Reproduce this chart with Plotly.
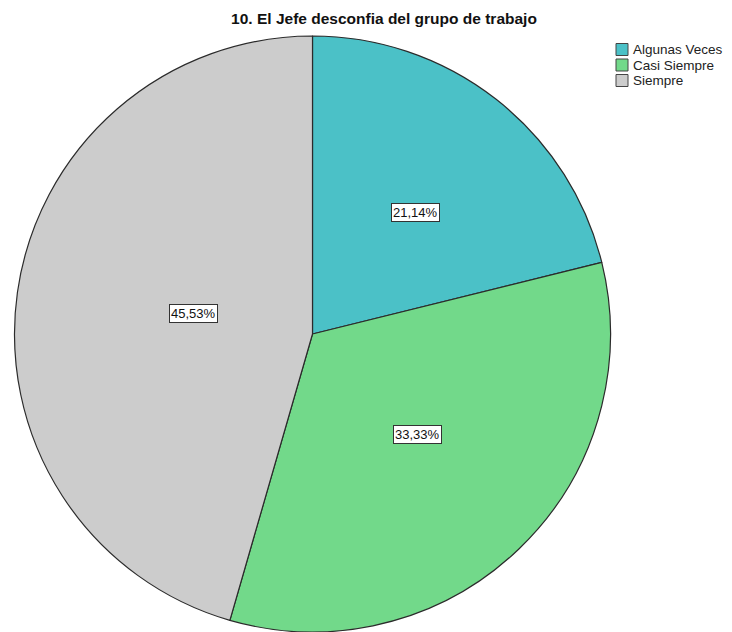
import math
import plotly.graph_objects as go

# Frequencies for "El Jefe desconfia del grupo de trabajo" (n = 123)
categories = ["Algunas Veces", "Casi Siempre", "Siempre"]
counts = [26, 41, 56]
slice_colors = ["#4bc1c7", "#72d98a", "#cccccc"]
title_text = "10. El Jefe desconfia del grupo de trabajo"

W, H = 732, 632
FONT = "Liberation Sans, Arial, sans-serif"

# pie placement in pixels
cx, cy, radius = 312.5, 334, 298

fig = go.Figure()
fig.add_trace(go.Pie(
    labels=categories,
    values=counts,
    sort=False,
    direction="clockwise",
    rotation=0,
    marker=dict(colors=slice_colors, line=dict(color="#2b2b2b", width=1.2)),
    textinfo="none",
    hoverinfo="label+percent",
    showlegend=False,
    domain=dict(x=[(cx - radius) / W, (cx + radius) / W],
                y=[1 - (cy + radius) / H, 1 - (cy - radius) / H]),
))

# boxed percentage labels, placed along each slice's mid angle
total = sum(counts)
label_r = [0.56, 0.51, 0.485]
cum = 0
for i, v in enumerate(counts):
    mid = (cum + v / 2) / total * 2 * math.pi
    cum += v
    x = cx + label_r[i] * radius * math.sin(mid)
    y = cy - label_r[i] * radius * math.cos(mid)
    pct = f"{100 * v / total:.2f}".replace(".", ",") + "%"
    fig.add_annotation(
        x=x / W, y=1 - y / H, xref="paper", yref="paper",
        text=pct, showarrow=False,
        font=dict(family=FONT, size=13, color="#111111"),
        bgcolor="white", bordercolor="#333333", borderwidth=1, borderpad=1,
    )

# legend: colour swatch + category name per row
leg_x, leg_y0, leg_step, sw = 616, 49.5, 15.5, 12
for i, (name, col) in enumerate(zip(categories, slice_colors)):
    yc = leg_y0 + i * leg_step
    fig.add_shape(
        type="rect", xref="paper", yref="paper",
        x0=leg_x / W, x1=(leg_x + sw) / W,
        y0=1 - (yc + sw / 2) / H, y1=1 - (yc - sw / 2) / H,
        fillcolor=col, line=dict(color="#444444", width=1),
    )
    fig.add_annotation(
        x=(leg_x + sw + 3) / W, y=1 - yc / H, xref="paper", yref="paper",
        xanchor="left", yanchor="middle", text=name, showarrow=False,
        font=dict(family=FONT, size=13.5, color="#222222"),
    )

fig.update_layout(
    width=W, height=H,
    margin=dict(l=0, r=0, t=0, b=0),
    paper_bgcolor="white",
    plot_bgcolor="white",
    separators=",.",
    showlegend=False,
    title=dict(
        text=f"<b>{title_text}</b>",
        x=384 / W, xanchor="center", y=1 - 19 / H, yanchor="middle",
        font=dict(family=FONT, size=15.5, color="#111111"),
    ),
)

fig.write_html("out.html")
